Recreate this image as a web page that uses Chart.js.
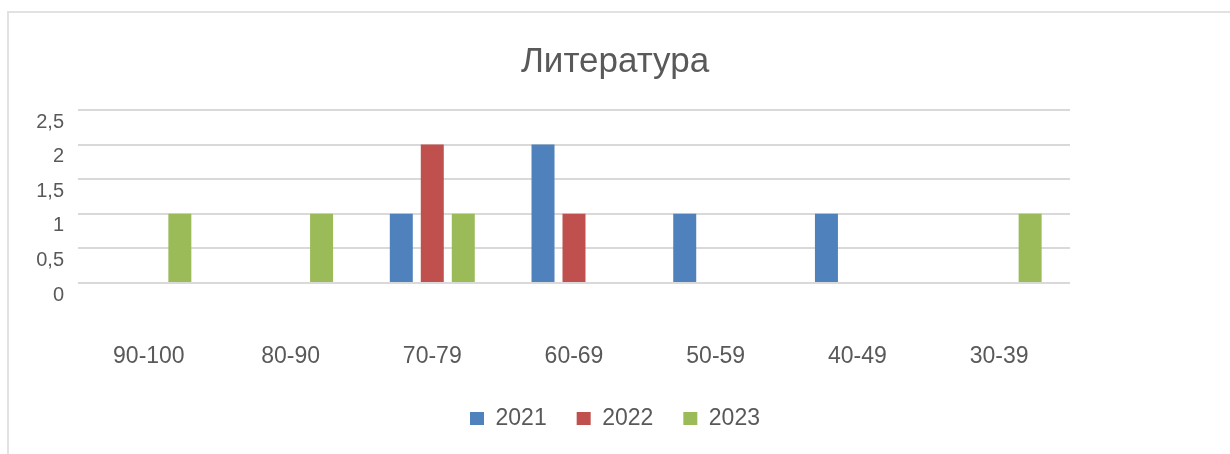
<!DOCTYPE html>
<html>
<head>
<meta charset="utf-8">
<script src="https://cdn.jsdelivr.net/npm/chart.js@4.4.1/dist/chart.umd.min.js"></script>
<style>
  html, body { margin: 0; padding: 0; background: #ffffff; }
  #wrap { position: relative; width: 1230px; height: 454px; overflow: hidden; }
  #frame { position: absolute; left: 7px; top: 11px; width: 1300px; height: 500px;
           border-left: 2px solid #e2e2e2; border-top: 2px solid #e2e2e2; }
  canvas { position: absolute; left: 0; top: 0; }
</style>
</head>
<body>
<div id="wrap">
  <div id="frame"></div>
  <canvas id="c" width="1230" height="454"></canvas>
</div>
<script>
const chartTitle = 'Литература';
const categories = ['90-100', '80-90', '70-79', '60-69', '50-59', '40-49', '30-39'];
const seriesNames = ['2021', '2022', '2023'];
const values2021 = [0, 0, 1, 2, 1, 1, 0];
const values2022 = [0, 0, 2, 1, 0, 0, 0];
const values2023 = [1, 1, 1, 0, 0, 0, 1];
const yTicks = [0, 0.5, 1, 1.5, 2, 2.5];
const seriesColors = ['#4F81BD', '#C0504D', '#9BBB59'];

const textColor = '#595959';
const fontFam = "'Liberation Sans', Arial, sans-serif";

const ctx = document.getElementById('c');
const chart = new Chart(ctx, {
  type: 'bar',
  data: {
    labels: categories,
    datasets: [
      { label: seriesNames[0], data: values2021, backgroundColor: seriesColors[0] },
      { label: seriesNames[1], data: values2022, backgroundColor: seriesColors[1] },
      { label: seriesNames[2], data: values2023, backgroundColor: seriesColors[2] }
    ]
  },
  options: {
    responsive: false,
    animation: false,
    devicePixelRatio: 1,
    categoryPercentage: 0.656,
    barPercentage: 0.742,
    layout: { padding: { left: 0, right: 0, top: 0, bottom: 14 } },
    plugins: {
      title: {
        display: true,
        text: chartTitle,
        color: textColor,
        font: { family: fontFam, size: 35, weight: 'normal' },
        padding: { top: 41, bottom: 27 }
      },
      legend: {
        display: true,
        position: 'bottom',
        labels: {
          color: textColor,
          font: { family: fontFam, size: 23 },
          boxWidth: 14,
          boxHeight: 13,
          padding: 30
        }
      },
      tooltip: { enabled: false }
    },
    scales: {
      x: {
        grid: { display: false },
        border: { display: false },
        afterFit: (scale) => { scale.height = 94; },
        ticks: {
          color: textColor,
          font: { family: fontFam, size: 23 },
          padding: 52,
          maxRotation: 0,
          autoSkip: false
        }
      },
      y: {
        min: 0,
        max: 2.5,
        afterBuildTicks: (scale) => { scale.ticks = yTicks.map(v => ({ value: v })); },
        afterFit: (scale) => { scale.width = 78; },
        grid: { color: '#d9d9d9', lineWidth: 2, drawTicks: false },
        border: { display: false },
        ticks: {
          color: textColor,
          font: { family: fontFam, size: 20 },
          padding: 14,
          labelOffset: 12,
          callback: (v) => String(v).replace('.', ',')
        }
      },
      yRight: {
        type: 'linear',
        position: 'right',
        display: true,
        afterFit: (scale) => { scale.width = 160; },
        grid: { display: false },
        border: { display: false },
        ticks: { display: false }
      }
    }
  }
});
</script>
</body>
</html>
